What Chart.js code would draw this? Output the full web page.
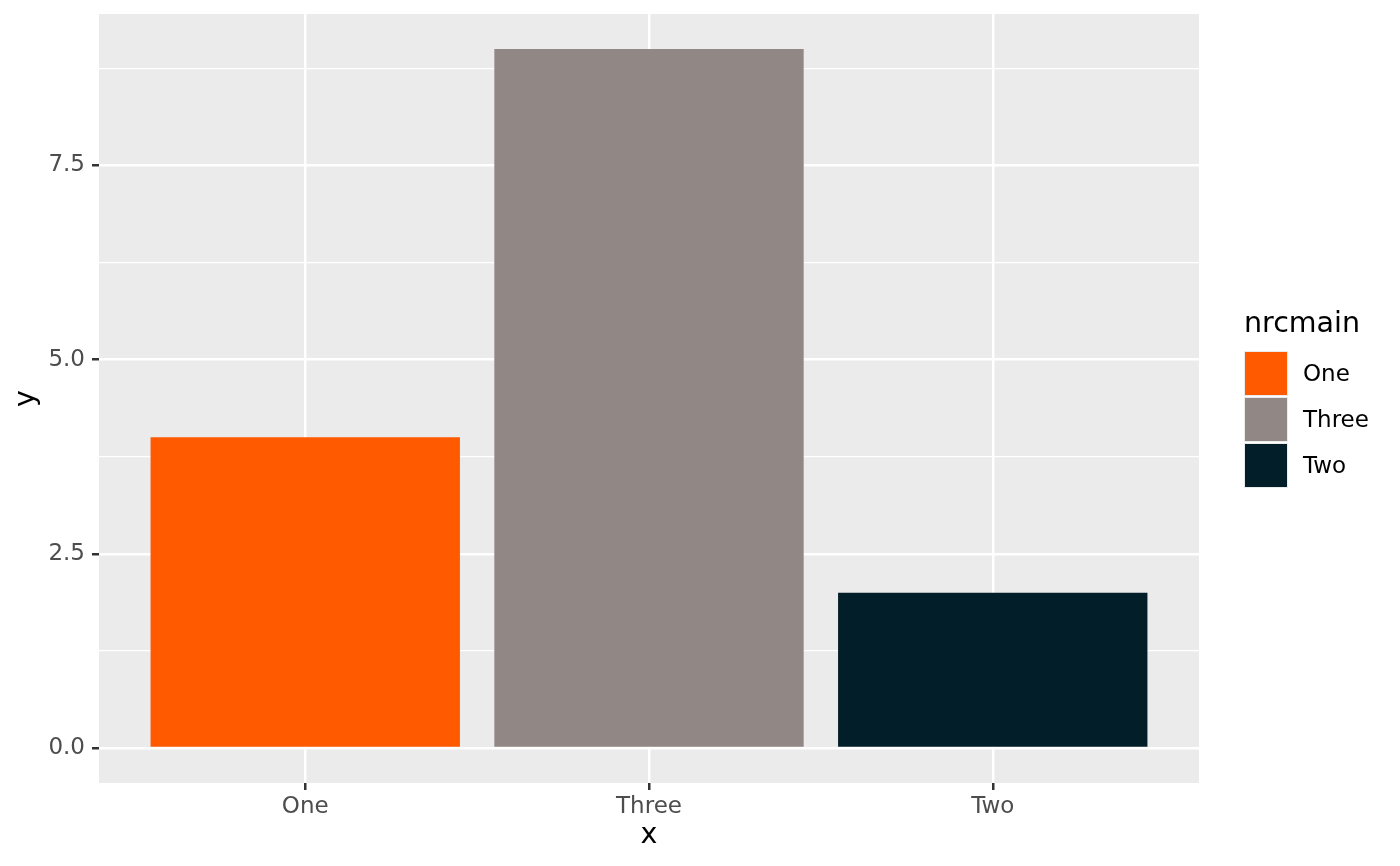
<!DOCTYPE html>
<html>
<head>
<meta charset="utf-8">
<script src="https://cdn.jsdelivr.net/npm/chart.js@4.4.1/dist/chart.umd.min.js"></script>
<style>
  html, body { margin: 0; padding: 0; background: #ffffff; }
  #wrap { position: relative; width: 1400px; height: 866px; }
  #c { position: absolute; left: 0; top: 0; }
  #legend { position: absolute; left: 1244px; top: 309px; font-family: "DejaVu Sans", sans-serif; color: #000; }
  #legend .title { font-size: 28.5px; line-height: 28.5px; height: 41px; }
  #legend .row { display: flex; align-items: center; height: 46px; }
  #legend .key { width: 42px; height: 43px; border: 1.5px solid #ebebeb; box-sizing: content-box; }
  #legend .lab { font-size: 23px; line-height: 46px; margin-left: 15px; }
</style>
</head>
<body>
<div id="wrap">
  <canvas id="c" width="1400" height="866"></canvas>
  <div id="legend"></div>
</div>
<script>
// ---- data ----
const categories = ['One', 'Three', 'Two'];
const values = [4, 9, 2];
const barColors = ['#FF5A00', '#918885', '#021E28'];
const legendTitle = 'nrcmain';
const yMajorTicks = [0, 2.5, 5, 7.5];
const yMajorLabels = ['0.0', '2.5', '5.0', '7.5'];
const yMinorTicks = [1.25, 3.75, 6.25, 8.75];
const xTitle = 'x';
const yTitle = 'y';

// ---- chart ----
const tickFont = { family: 'DejaVu Sans', size: 23 };
const titleFont = { family: 'DejaVu Sans', size: 28.5 };

const panelBg = {
  id: 'panelBg',
  beforeDraw(chart) {
    const { ctx, chartArea: a } = chart;
    ctx.save();
    ctx.fillStyle = '#EBEBEB';
    ctx.fillRect(a.left, a.top, a.right - a.left, a.bottom - a.top);
    ctx.restore();
  }
};

const isMajor = v => yMajorTicks.includes(v);

new Chart(document.getElementById('c'), {
  type: 'bar',
  data: {
    datasets: [{
      label: legendTitle,
      data: categories.map((c, i) => ({ x: i + 1, y: values[i] })),
      backgroundColor: barColors,
      borderWidth: 0,
      barPercentage: 0.9,
      categoryPercentage: 1.0
    }]
  },
  options: {
    responsive: false,
    animation: false,
    devicePixelRatio: 1,
    layout: { padding: { top: 14, right: 201, left: 0, bottom: 0 } },
    plugins: { legend: { display: false }, tooltip: { enabled: false } },
    scales: {
      x: {
        type: 'linear',
        min: 0.4,
        max: 3.6,
        offset: false,
        afterBuildTicks: s => { s.ticks = categories.map((c, i) => ({ value: i + 1 })); },
        afterFit: s => { s.height = 83; s.paddingLeft = 0; s.paddingRight = 0; },
        ticks: {
          autoSkip: false,
          maxRotation: 0,
          padding: 3,
          color: '#4D4D4D',
          font: tickFont,
          callback: v => categories[Math.round(v) - 1]
        },
        grid: {
          offset: false,
          color: '#FFFFFF',
          lineWidth: 2.5,
          tickColor: '#333333',
          tickWidth: 2.5,
          tickLength: 7
        },
        border: { display: false },
        title: { display: true, text: xTitle, color: '#000', font: titleFont, padding: { top: 0, bottom: 13 } }
      },
      y: {
        type: 'linear',
        min: -0.45,
        max: 9.45,
        afterBuildTicks: s => {
          s.ticks = yMajorTicks.concat(yMinorTicks).sort((a, b) => a - b).map(v => ({ value: v }));
        },
        afterFit: s => { s.width = 99; s.paddingTop = 0; s.paddingBottom = 0; },
        ticks: {
          autoSkip: false,
          padding: 7,
          color: '#4D4D4D',
          font: tickFont,
          callback: v => { const i = yMajorTicks.indexOf(v); return i >= 0 ? yMajorLabels[i] : ''; }
        },
        grid: {
          color: '#FFFFFF',
          lineWidth: ctx => (ctx.tick && isMajor(ctx.tick.value)) ? 2.5 : 1.3,
          tickColor: ctx => (ctx.tick && isMajor(ctx.tick.value)) ? '#333333' : 'rgba(0,0,0,0)',
          tickWidth: 2.5,
          tickLength: 7
        },
        border: { display: false },
        title: { display: true, text: yTitle, color: '#000', font: titleFont, padding: { top: 9, bottom: 0 } }
      }
    }
  },
  plugins: [panelBg]
});

// ---- legend (HTML) ----
const lg = document.getElementById('legend');
const t = document.createElement('div');
t.className = 'title';
t.textContent = legendTitle;
lg.appendChild(t);
categories.forEach((c, i) => {
  const row = document.createElement('div');
  row.className = 'row';
  const k = document.createElement('div');
  k.className = 'key';
  k.style.background = barColors[i];
  const l = document.createElement('div');
  l.className = 'lab';
  l.textContent = c;
  row.appendChild(k);
  row.appendChild(l);
  lg.appendChild(row);
});
</script>
</body>
</html>
